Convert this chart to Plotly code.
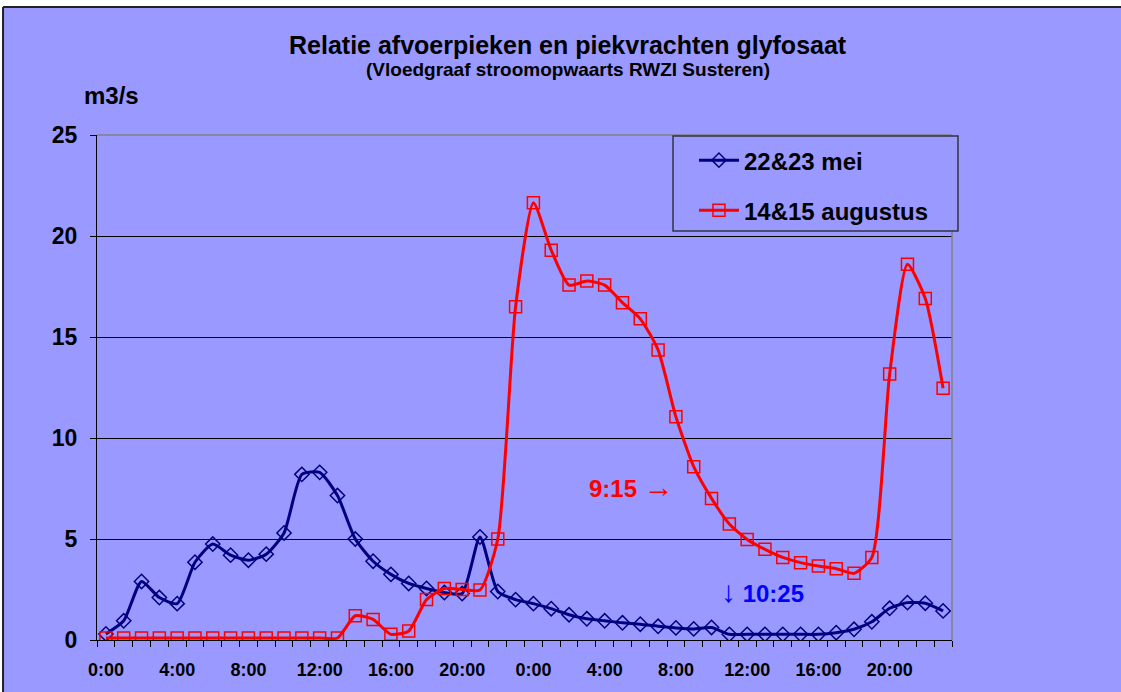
import plotly.graph_objects as go

# Hourly discharge (m3/s) over two days, two events
hours = [f"{h}:00" for h in range(24)] * 2
tick_labels = ["0:00", "4:00", "8:00", "12:00", "16:00", "20:00"] * 2

mei = [0.3, 0.95, 2.9, 2.1, 1.8, 3.85, 4.75, 4.2, 3.95, 4.25, 5.3, 8.2,
       8.3, 7.15, 5.0, 3.9, 3.25, 2.8, 2.55, 2.35, 2.3, 5.1, 2.4, 2.0,
       1.8, 1.55, 1.25, 1.05, 0.95, 0.85, 0.78, 0.68, 0.6, 0.55, 0.62, 0.28,
       0.28, 0.28, 0.28, 0.28, 0.28, 0.36, 0.53, 0.9, 1.57, 1.85, 1.82, 1.44]

augustus = [0.1, 0.1, 0.1, 0.1, 0.1, 0.1, 0.1, 0.1, 0.1, 0.1, 0.1, 0.1,
            0.1, 0.1, 1.2, 1.02, 0.28, 0.45, 2.0, 2.55, 2.5, 2.48, 5.0, 16.5,
            21.65, 19.3, 17.57, 17.77, 17.57, 16.7, 15.9, 14.36, 11.05, 8.58, 7.01, 5.74,
            4.98, 4.49, 4.09, 3.83, 3.66, 3.53, 3.3, 4.09, 13.17, 18.6, 16.9, 12.46]

BG = "#9999FF"
FONT = "Liberation Sans, Arial, sans-serif"

x = list(range(len(hours)))

fig = go.Figure()
fig.add_trace(go.Scatter(
    x=x, y=mei, name="<b>22&23 mei</b>", legendgroup="a",
    mode="lines+markers",
    line=dict(color="#000080", width=3, shape="spline", smoothing=0.6),
    marker=dict(symbol="diamond-open", size=11, color="#000080",
                line=dict(color="#000080", width=1.5)),
    customdata=hours,
))
fig.add_trace(go.Scatter(
    x=x, y=augustus, name="<b>14&15 augustus</b>", legendgroup="b",
    mode="lines+markers",
    line=dict(color="#FF0000", width=3, shape="spline", smoothing=0.6),
    marker=dict(symbol="square-open", size=12, color="#FF0000",
                line=dict(color="#FF0000", width=1.5)),
    customdata=hours,
))

fig.update_layout(
    width=1121, height=692,
    margin=dict(l=97, r=169, t=135, b=52),
    paper_bgcolor="white",
    plot_bgcolor=BG,
    font=dict(family=FONT, color="black"),
    showlegend=True,
    legend=dict(
        x=0.6982, y=0.994, xanchor="left", yanchor="top",
        bgcolor="rgba(0,0,0,0)", borderwidth=0,
        font=dict(size=24, family=FONT, color="black"),
        tracegroupgap=16, traceorder="grouped",
        itemwidth=40,
    ),
    xaxis=dict(
        range=[-0.5, len(x) - 0.5],
        tickmode="array",
        tickvals=list(range(0, len(x), 4)),
        ticktext=[f"<b>{t}</b>" for t in tick_labels],
        ticks="", showgrid=False, zeroline=False,
        showline=True, linecolor="black", linewidth=1,
        tickfont=dict(size=18, family=FONT, color="black"),
        ticklabelstandoff=13,
        minor=dict(tickmode="array",
                   tickvals=[i - 0.5 for i in range(len(x) + 1)],
                   ticks="outside", ticklen=6, tickcolor="black",
                   tickwidth=1, showgrid=False),
    ),
    yaxis=dict(
        range=[0, 25],
        tickvals=[0, 5, 10, 15, 20, 25],
        ticktext=["<b>0</b>", "<b>5</b>", "<b>10</b>", "<b>15</b>", "<b>20</b>", "<b>25</b>"],
        ticks="outside", ticklen=6, tickcolor="black",
        showgrid=True, gridcolor="black", gridwidth=1,
        zeroline=False,
        showline=True, linecolor="black", linewidth=1,
        tickfont=dict(size=23, family=FONT, color="black"),
        ticklabelstandoff=8,
    ),
    shapes=[
        # chart area background
        dict(type="rect", xref="paper", yref="paper",
             x0=-0.1099, x1=1.2, y0=-0.2, y1=1.2535,
             fillcolor=BG, line=dict(width=0), layer="below"),
        # chart area frame: top and left edges
        dict(type="line", xref="paper", yref="paper",
             x0=-0.1099, x1=1.2, y0=1.2535, y1=1.2535,
             line=dict(color="#222222", width=2), layer="below"),
        dict(type="line", xref="paper", yref="paper",
             x0=-0.1099, x1=-0.1099, y0=-0.2, y1=1.2535,
             line=dict(color="#222222", width=2), layer="below"),
        # plot area frame (top and right)
        dict(type="line", xref="paper", yref="paper", x0=0, x1=1, y0=1, y1=1,
             line=dict(color="#808080", width=1.5), layer="above"),
        dict(type="line", xref="paper", yref="paper", x0=1, x1=1, y0=0, y1=1,
             line=dict(color="#808080", width=1.5), layer="above"),
        # legend frame
        dict(type="rect", xref="paper", yref="paper",
             x0=0.6737, x1=1.007, y0=0.81, y1=0.998,
             fillcolor=BG, line=dict(color="#333344", width=1.5), layer="above"),
    ],
    annotations=[
        dict(text="<b>Relatie afvoerpieken en piekvrachten glyfosaat</b>",
             xref="paper", yref="paper", x=0.551, y=1.178,
             xanchor="center", yanchor="middle",
             showarrow=False, font=dict(size=25, family=FONT, color="black")),
        dict(text="<b>(Vloedgraaf stroomopwaarts RWZI Susteren)</b>",
             xref="paper", yref="paper", x=0.551, y=1.129,
             xanchor="center", yanchor="middle",
             showarrow=False, font=dict(size=19, family=FONT, color="black")),
        dict(text="<b>m3/s</b>",
             xref="paper", yref="paper", x=0.0175, y=1.079,
             xanchor="center", yanchor="middle",
             showarrow=False, font=dict(size=24, family=FONT, color="black")),
        dict(text="<b>9:15</b> <span style='font-size:30px'>→</span>",
             x=29.48, y=7.62, xref="x", yref="y",
             xanchor="center", yanchor="middle",
             showarrow=False, font=dict(size=24, family=FONT, color="#FF0000")),
        dict(text="<span style='font-size:30px'>↓</span> <b>10:25</b>",
             x=36.84, y=2.38, xref="x", yref="y",
             xanchor="center", yanchor="middle",
             showarrow=False, font=dict(size=24, family=FONT, color="#0000FF")),
    ],
)

fig.write_html("out.html")
